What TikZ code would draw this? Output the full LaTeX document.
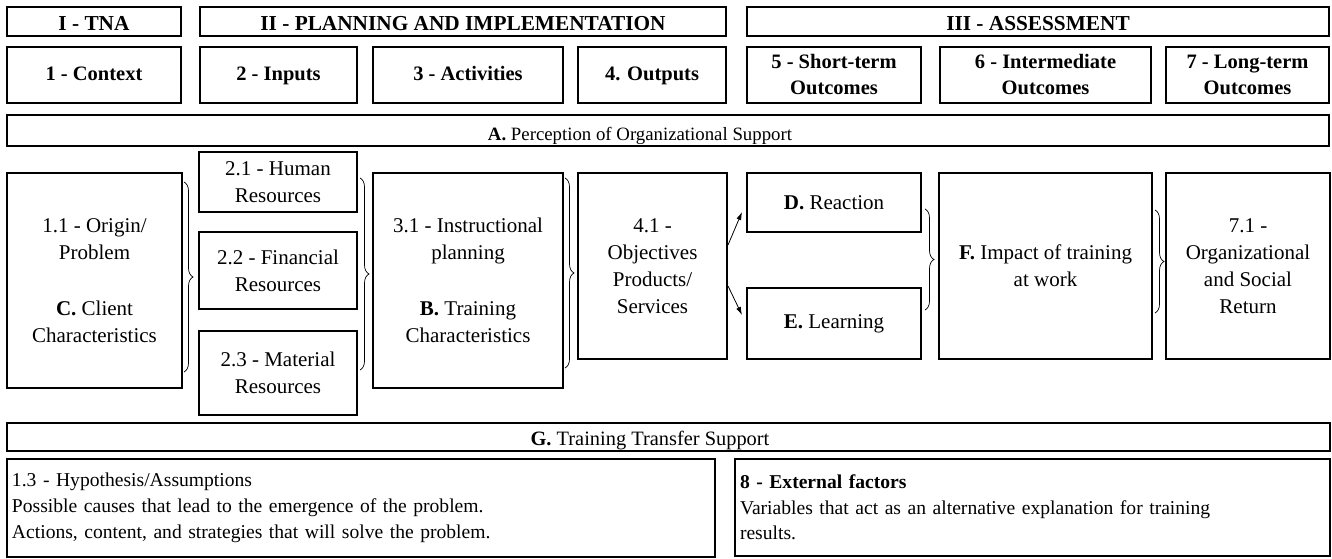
\documentclass[tikz,border=0pt]{standalone}
\usepackage{fontspec}
\setmainfont{Liberation Serif}
\usetikzlibrary{arrows.meta,decorations.pathreplacing}

\begin{document}
\begin{tikzpicture}[x=1pt,y=-1pt,font=\fontsize{21}{27}\selectfont,
  wh/.style 2 args={minimum width=#1pt,minimum height=#2pt},
  box/.style={draw,line width=2pt,align=center,inner sep=0pt},
  phase/.style={box,font=\fontsize{21.3}{26}\selectfont\bfseries,text height=19pt,text depth=0pt},
  head/.style={box,font=\fontsize{20.5}{26}\selectfont\bfseries},
  oneline/.style={text height=16pt,text depth=4pt},
  bar/.style={draw,line width=2pt,inner sep=0pt},
  barlabel/.style={inner sep=0pt,anchor=base},
  note/.style={draw,line width=2pt,align=left,inner xsep=5pt,inner ysep=0pt,font=\fontsize{19.6}{25.7}\selectfont},
  brace/.style={decorate,decoration={brace,amplitude=9pt},line width=0.7pt},
  arrow/.style={-{Latex[length=8pt,width=5pt]},line width=0.8pt}]
\useasboundingbox (0,0) rectangle (1332,559);

%phases
\node[phase,wh={174}{29}] (tna) at (94,21.5) {I - TNA};
\node[phase,wh={526}{29}] (plan) at (463,21.5) {II - PLANNING AND IMPLEMENTATION};
\node[phase,wh={582}{29}] (assess) at (1038,21.5) {III - ASSESSMENT};

%steps
\node[head,oneline,wh={174}{56}] (context) at (94,75) {1 - Context};
\node[head,oneline,wh={157}{56}] (inputs) at (278.5,75) {2 - Inputs};
\node[head,oneline,wh={190}{56}] (activities) at (468,75) {3 - Activities};
\node[head,oneline,wh={148}{56}] (outputs) at (652,75) {4. Outputs};
\node[head,wh={174}{56}] (shortterm) at (834,75) {5 - Short-term\\Outcomes};
\node[head,wh={211}{56}] (intermediate) at (1045.5,75) {6 - Intermediate\\Outcomes};
\node[head,wh={163}{56}] (longterm) at (1247.5,75) {7 - Long-term\\Outcomes};

\node[bar,wh={1322}{31}] (support) at (668,130.5) {};
\node[barlabel,font=\fontsize{18.8}{22}\selectfont] (supportlabel) at ([xshift=-28pt,yshift=-9.5pt]support.center) {\textbf{A.} Perception of Organizational Support};

%model
\node[box,wh={175}{215}] (origin) at (94.5,280.5) {1.1 - Origin/\\Problem\\[29pt]\textbf{C.} Client\\Characteristics};
\node[box,wh={158}{60}] (human) at (278,182) {2.1 - Human\\Resources};
\node[box,wh={158}{77}] (financial) at (278,270.5) {2.2 - Financial\\Resources};
\node[box,wh={158}{84}] (material) at (278,373) {2.3 - Material\\Resources};
\node[box,wh={190}{215}] (instruct) at (468,280.5) {3.1 - Instructional\\planning\\[29pt]\textbf{B.} Training\\Characteristics};
\node[box,wh={149}{186}] (objectives) at (652.5,266) {4.1 -\\Objectives\\Products/\\Services};
\node[box,wh={174}{59}] (reaction) at (834,202.5) {\textbf{D.} Reaction};
\node[box,wh={174}{71}] (learning) at (834,323.5) {\textbf{E.} Learning};
\node[box,wh={213}{186}] (impact) at (1045.5,266) {\textbf{F.} Impact of training\\at work};
\node[box,wh={164}{186}] (return) at (1248,266) {7.1 -\\Organizational\\and Social\\Return};

\draw[brace] (184,182) -- (184,372);
\draw[brace] (360,178) -- (360,370);
\draw[brace] (565,178) -- (565,368);
\draw[brace] (925,209) -- (925,310);
\draw[brace] (1155,210) -- (1155,313);

\draw[arrow] ([yshift=21pt]objectives.east) -- ([xshift=-4pt,yshift=-9.5pt]reaction.west);
\draw[arrow] ([yshift=-20pt]objectives.east) -- ([xshift=-4pt,yshift=8.5pt]learning.west);

\node[bar,wh={1323}{28}] (transfer) at (668.5,437) {};
\node[barlabel,font=\fontsize{20.4}{24}\selectfont] (transferlabel) at ([xshift=-18.5pt,yshift=-8pt]transfer.center) {\textbf{G.} Training Transfer Support};

%notes
\node[note,text width=698pt,minimum height=98pt] (hypothesis) at (361,508) {1.3 - Hypothesis/Assumptions\\Possible causes that lead to the emergence of the problem.\\Actions, content, and strategies that will solve the problem.};
\node[note,text width=585pt,minimum height=97pt] (external) at (1032.5,507.5) {\textbf{8 - External factors}\\Variables that act as an alternative explanation for training\\results.};
\end{tikzpicture}
\end{document}
